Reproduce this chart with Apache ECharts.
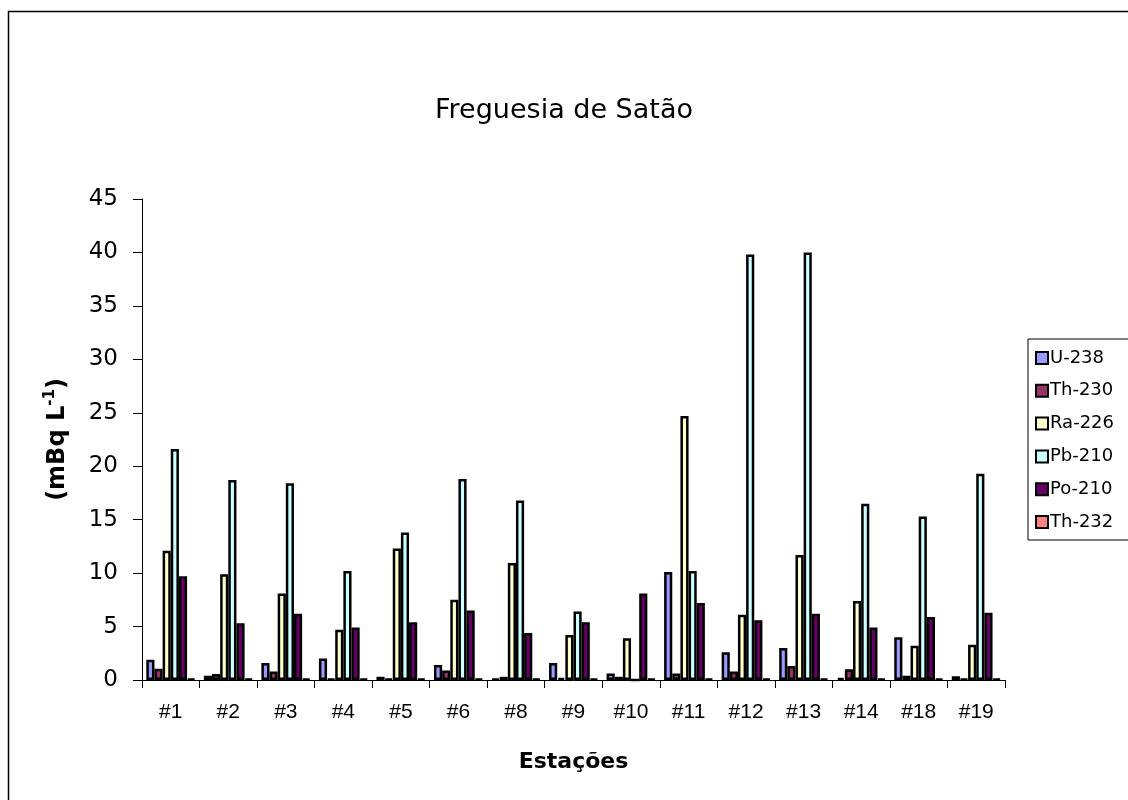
<!DOCTYPE html>
<html>
<head>
<meta charset="utf-8">
<title>Freguesia de Satão</title>
<script src="https://cdn.jsdelivr.net/npm/echarts@6/dist/echarts.min.js"></script>
<style>
  html, body { margin: 0; padding: 0; background: #ffffff; }
  #chart { width: 1128px; height: 800px; }
</style>
</head>
<body>
<div id="chart"></div>
<script>
// Sampling stations
const stations = ['#1', '#2', '#3', '#4', '#5', '#6', '#8', '#9', '#10', '#11', '#12', '#13', '#14', '#18', '#19'];

// Activity concentrations per radionuclide (mBq L-1)
const u238  = [1.9, 0.4, 1.6, 2.0, 0.3, 1.4, 0.1, 1.6, 0.6, 10.1, 2.6, 3.0, 0.2, 4.0, 0.35];
const th230 = [1.05, 0.55, 0.8, 0.1, 0.1, 0.9, 0.3, 0.2, 0.3, 0.6, 0.8, 1.3, 1.0, 0.4, 0.1];
const ra226 = [12.1, 9.9, 8.1, 4.7, 12.3, 7.5, 10.95, 4.2, 3.9, 24.7, 6.1, 11.7, 7.4, 3.2, 3.3];
const pb210 = [21.6, 18.7, 18.4, 10.2, 13.8, 18.8, 16.8, 6.4, 0, 10.2, 39.8, 40.0, 16.5, 15.3, 19.3];
const po210 = [9.7, 5.3, 6.2, 4.9, 5.4, 6.5, 4.4, 5.4, 8.1, 7.2, 5.6, 6.2, 4.9, 5.9, 6.3];
const th232 = [0.1, 0.1, 0.1, 0.1, 0.1, 0.1, 0.1, 0.1, 0.1, 0.1, 0.1, 0.1, 0.1, 0.1, 0.1];

const yTicks = { min: 0, max: 45, interval: 5 };

const seriesDefs = [
  { name: 'U-238',  data: u238,  color: '#9999FF' },
  { name: 'Th-230', data: th230, color: '#993366' },
  { name: 'Ra-226', data: ra226, color: '#FFFFCC' },
  { name: 'Pb-210', data: pb210, color: '#CCFFFF' },
  { name: 'Po-210', data: po210, color: '#660066' },
  { name: 'Th-232', data: th232, color: '#FF8080' }
];

const wide = '"DejaVu Sans", Verdana, sans-serif';
const narrow = '"Liberation Sans", Arial, Helvetica, sans-serif';

const chart = echarts.init(document.getElementById('chart'), null, { renderer: 'canvas' });

chart.setOption({
  backgroundColor: '#ffffff',
  animation: false,
  textStyle: { fontFamily: wide, color: '#000000' },
  title: {
    text: 'Freguesia de Satão',
    left: 'center',
    top: 92,
    textStyle: { fontFamily: wide, fontSize: 27, fontWeight: 'normal', color: '#000000' }
  },
  graphic: [
    {
      // outer chart frame (top and left edges visible)
      type: 'polyline',
      shape: { points: [[8.5, 800], [8.5, 11.5], [1128, 11.5]] },
      style: { stroke: '#000000', lineWidth: 1.5, fill: null },
      silent: true
    }
  ],
  legend: {
    orient: 'vertical',
    left: 1028,
    top: 339,
    padding: [9, 40, 8, 7],
    borderColor: '#000000',
    borderWidth: 1,
    itemWidth: 12,
    itemHeight: 12,
    itemGap: 12.8,
    icon: 'rect',
    textStyle: { fontFamily: wide, fontSize: 18, color: '#000000', lineHeight: 20, padding: [0, 0, 0, -3] },
    itemStyle: { borderColor: '#000000', borderWidth: 2 },
    data: seriesDefs.map(s => s.name)
  },
  grid: {
    left: 142,
    right: 123,
    top: 199,
    bottom: 120,
    containLabel: false
  },
  xAxis: {
    type: 'category',
    data: stations,
    name: 'Estações',
    nameLocation: 'middle',
    nameGap: 71,
    nameTextStyle: { fontFamily: wide, fontSize: 22, fontWeight: 'bold', color: '#000000' },
    axisLine: { lineStyle: { color: '#000000', width: 1 } },
    axisTick: { show: true, length: 8, inside: false, alignWithLabel: false, lineStyle: { color: '#000000' } },
    axisLabel: { fontFamily: narrow, fontSize: 21, color: '#000000', margin: 22 },
    splitLine: { show: false }
  },
  yAxis: {
    type: 'value',
    min: yTicks.min,
    max: yTicks.max,
    interval: yTicks.interval,
    name: '{a|(mBq L}{s|-1}{a|)}',
    nameLocation: 'middle',
    nameRotate: 90,
    nameGap: 70,
    nameTextStyle: {
      rich: {
        a: { fontFamily: wide, fontSize: 24, fontWeight: 'bold', color: '#000000' },
        s: { fontFamily: wide, fontSize: 15, fontWeight: 'bold', color: '#000000', verticalAlign: 'top', padding: [0, 0, 14, 0] }
      }
    },
    axisLine: { show: true, lineStyle: { color: '#000000', width: 1 } },
    axisTick: { show: true, length: 9, inside: false, lineStyle: { color: '#000000' } },
    axisLabel: { fontFamily: wide, fontSize: 23, color: '#000000', margin: 24 },
    splitLine: { show: false }
  },
  series: seriesDefs.map(s => ({
    name: s.name,
    type: 'bar',
    data: s.data,
    barGap: '0%',
    barCategoryGap: '15%',
    itemStyle: { color: s.color, borderColor: '#000000', borderWidth: 2.5 }
  }))
});
</script>
</body>
</html>
